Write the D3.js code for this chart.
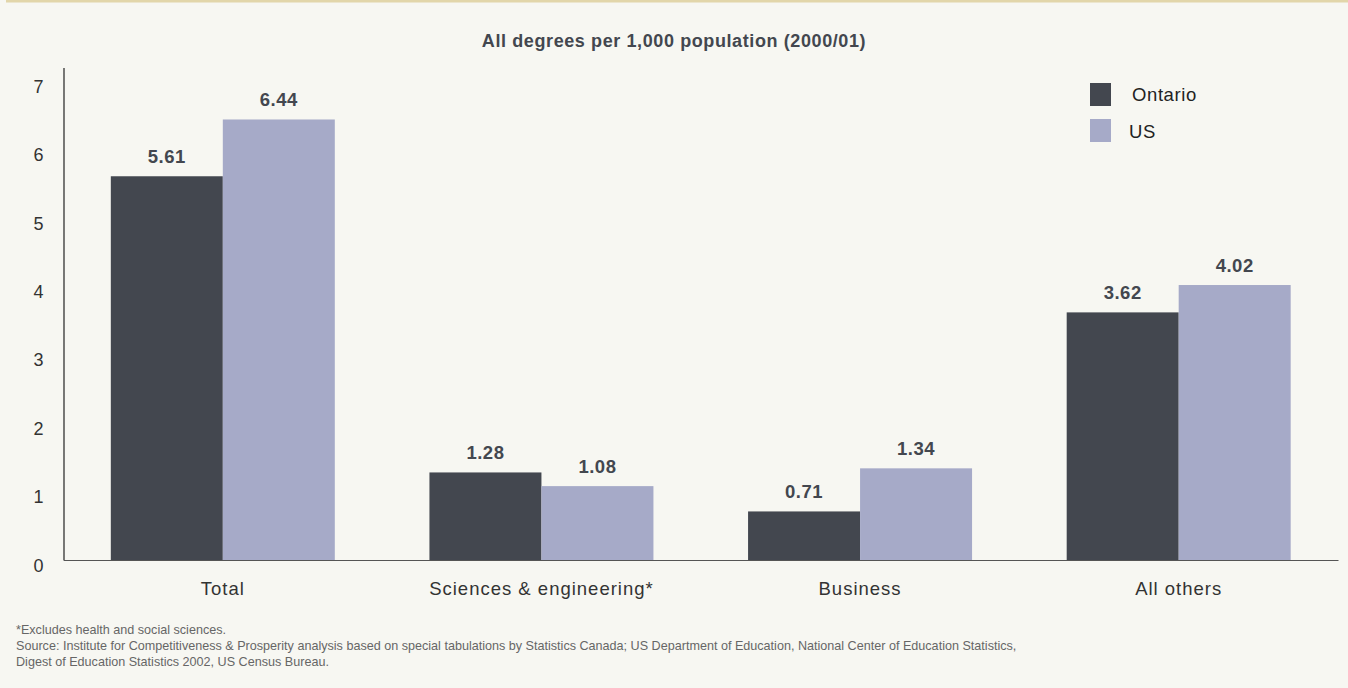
<!DOCTYPE html>
<html>
<head>
<meta charset="utf-8">
<script src="https://cdn.jsdelivr.net/npm/d3@7"></script>
<style>
  html, body { margin: 0; padding: 0; background: #f7f7f2; }
  svg { display: block; font-family: "Liberation Sans", Arial, Helvetica, sans-serif; }
</style>
</head>
<body>
<svg id="chart" width="1348" height="688"></svg>
<script>
// Degrees per 1,000 population, 2000/01
const categories = ["Total", "Sciences & engineering*", "Business", "All others"];
const seriesNames = ["Ontario", "US"];
const ontario = [5.61, 1.28, 0.71, 3.62];
const us = [6.44, 1.08, 1.34, 4.02];
const yTicks = [0, 1, 2, 3, 4, 5, 6, 7];
const title = "All degrees per 1,000 population (2000/01)";
const notes = [
  "*Excludes health and social sciences.",
  "Source: Institute for Competitiveness & Prosperity analysis based on special tabulations by Statistics Canada; US Department of Education, National Center of Education Statistics,",
  "Digest of Education Statistics 2002, US Census Bureau."
];

const colors = { Ontario: "#43474f", US: "#a6aac8" };
const values = { Ontario: ontario, US: us };

const svg = d3.select("#chart");
const W = 1348, H = 688;
const m = { left: 63.5 };

svg.append("rect").attr("x", 0).attr("y", 0).attr("width", W).attr("height", H).attr("fill", "#f7f7f2");
svg.append("rect").attr("x", 6).attr("y", 0).attr("width", W - 6).attr("height", 2.5).attr("fill", "#e2d6aa");

const x0 = d3.scaleBand().domain(categories).range([m.left, 1338]).paddingInner(0.297).paddingOuter(0.1485);
const x1 = d3.scaleBand().domain(seriesNames).range([0, x0.bandwidth()]);
const y = d3.scaleLinear().domain([0, 7.2]).range([560, 67.5]);

// title
svg.append("text").attr("x", 674).attr("y", 47).attr("text-anchor", "middle")
  .attr("font-size", 18).attr("font-weight", "bold").attr("letter-spacing", 0.6)
  .attr("fill", "#43474f").text(title);

// bars and value labels
const groups = svg.append("g").selectAll("g").data(categories).join("g")
  .attr("transform", d => `translate(${x0(d)},0)`);

seriesNames.forEach(s => {
  groups.append("rect")
    .attr("x", x1(s))
    .attr("y", (d, i) => y(values[s][i]))
    .attr("width", x1.bandwidth())
    .attr("height", (d, i) => y(0) - y(values[s][i]))
    .attr("fill", colors[s]);
  groups.append("text")
    .attr("x", x1(s) + x1.bandwidth() / 2)
    .attr("y", (d, i) => y(values[s][i]) - 13)
    .attr("text-anchor", "middle")
    .attr("font-size", 18.5).attr("font-weight", "bold").attr("letter-spacing", 0.5)
    .attr("fill", "#43474f")
    .text((d, i) => values[s][i].toFixed(2));
});

// y axis
const yAxis = d3.axisLeft(y).tickValues(yTicks).tickSize(0).tickPadding(20).tickFormat(d3.format("d"));
const gy = svg.append("g").attr("transform", `translate(${m.left},0)`).call(yAxis);
gy.select(".domain").attr("stroke", "#222").attr("stroke-width", 1.2);
gy.selectAll("text").attr("font-size", 18).attr("fill", "#333").attr("dy", "0.62em")
  .attr("font-family", "Liberation Sans, Arial, sans-serif");

// x axis
const xAxis = d3.axisBottom(x0).tickSize(0).tickPadding(22);
const gx = svg.append("g").attr("transform", `translate(0,${y(0)})`).call(xAxis);
gx.select(".domain").attr("stroke", "#555").attr("stroke-width", 1.2);
gx.selectAll("text").attr("font-size", 18.5).attr("fill", "#333").attr("letter-spacing", 1)
  .attr("font-family", "Liberation Sans, Arial, sans-serif");

// legend
const legend = svg.append("g");
seriesNames.forEach((s, i) => {
  legend.append("rect").attr("x", 1090).attr("y", 83 + i * 36).attr("width", 21).attr("height", 23).attr("fill", colors[s]);
  legend.append("text").attr("x", s === "Ontario" ? 1132 : 1129).attr("y", 101 + i * 37)
    .attr("font-size", 18.5).attr("letter-spacing", 0.6).attr("fill", "#222").text(s);
});

// notes
notes.forEach((t, i) => {
  svg.append("text").attr("x", 16).attr("y", 634 + i * 15.8)
    .attr("font-size", 12.6).attr("fill", "#666").text(t);
});
</script>
</body>
</html>
